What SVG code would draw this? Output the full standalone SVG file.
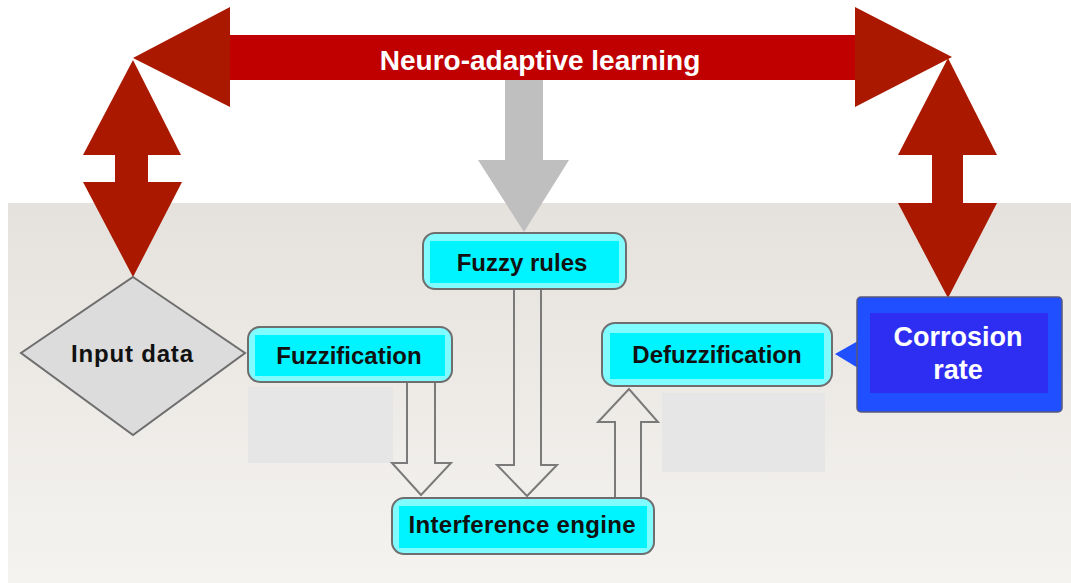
<svg xmlns="http://www.w3.org/2000/svg" width="1071" height="583" viewBox="0 0 1071 583">
  <defs>
    <linearGradient id="panelFill" x1="0" y1="0" x2="0" y2="1">
      <stop offset="0" stop-color="#E5E2DD"/>
      <stop offset="1" stop-color="#F5F3F0"/>
    </linearGradient>
    <style>
      .label { font-family: "Liberation Sans", Arial, sans-serif; font-weight: bold; text-anchor: middle; }
      .dark { fill: #111111; font-size: 24px; }
      .light { fill: #FFFFFF; }
      .box-outer { fill: #80FBFF; stroke: #6E6E6E; stroke-width: 2; }
      .box-inner { fill: #00F4FF; }
      .hollow { fill: none; stroke: #7A7A7A; stroke-width: 2; stroke-linejoin: miter; }
      .red-head { fill: #AA1800; }
      .red-body { fill: #C00000; }
      .shade { fill: #E6E6E6; }
    </style>
  </defs>

  <!-- page background and lower panel -->
  <rect x="0" y="0" width="1071" height="583" fill="#FFFFFF"/>
  <rect x="8" y="203" width="1063" height="380" fill="url(#panelFill)"/>

  <!-- plain grey blocks under the side boxes -->
  <rect class="shade" x="248" y="387" width="145" height="76"/>
  <rect class="shade" x="662" y="393" width="163" height="79"/>

  <g id="connectors">
    <!-- learning loop: horizontal double arrow -->
    <g id="learning-arrow">
      <rect class="red-body" x="229" y="35" width="627" height="45"/>
      <polygon class="red-head" points="133,58 230,7 230,107"/>
      <polygon class="red-head" points="952,57 855,7 855,107"/>
      <text class="label light" x="540" y="70" font-size="28">Neuro-adaptive learning</text>
    </g>
    <!-- learning link to the input -->
    <g id="input-link">
      <polygon class="red-head" points="133,60 181,155 83,155"/>
      <rect class="red-head" x="115" y="154" width="33" height="29"/>
      <polygon class="red-head" points="83,182 182,182 133,277"/>
    </g>
    <!-- learning link to the output -->
    <g id="output-link">
      <polygon class="red-head" points="948,58 997,155 898,155"/>
      <rect class="red-head" x="932" y="154" width="31" height="50"/>
      <polygon class="red-head" points="898,203 997,203 948,298"/>
    </g>
    <!-- learning feeds the rule base -->
    <polygon id="rules-feed" fill="#BFBFBF" points="505,80 543,80 543,160 569,160 524,232 478,160 505,160"/>
    <!-- hollow flow arrows -->
    <path class="hollow" d="M407,382 V463 H392 L421,495 L451,463 H435 V382"/>
    <path class="hollow" d="M514,289 V465 H497 L527,496 L557,465 H541 V289"/>
    <path class="hollow" d="M615,497 V422 H598 L629,389 L658,422 H641 V497"/>
  </g>

  <g id="input-data">
    <polygon points="133,277 245,353 133,435 21,353" fill="#DCDCDC" stroke="#6E6E6E" stroke-width="2"/>
    <text class="label dark" x="132" y="362" font-size="23" textLength="122" lengthAdjust="spacing">Input data</text>
  </g>

  <g id="fuzzification">
    <rect class="box-outer" x="248" y="327" width="204" height="55" rx="12"/>
    <rect class="box-inner" x="255" y="335" width="190" height="41"/>
    <text class="label dark" x="349" y="364">Fuzzification</text>
  </g>

  <g id="fuzzy-rules">
    <rect class="box-outer" x="423" y="233" width="203" height="56" rx="12"/>
    <rect class="box-inner" x="430" y="241" width="189" height="42"/>
    <text class="label dark" x="522" y="271">Fuzzy rules</text>
  </g>

  <g id="defuzzification">
    <rect class="box-outer" x="602" y="323" width="230" height="63" rx="13"/>
    <rect class="box-inner" x="610" y="333" width="214" height="46"/>
    <text class="label dark" x="717" y="363">Defuzzification</text>
  </g>

  <g id="interference-engine">
    <rect class="box-outer" x="392" y="498" width="262" height="56" rx="12"/>
    <rect class="box-inner" x="399" y="506" width="248" height="42"/>
    <text class="label dark" x="522" y="533" textLength="227" lengthAdjust="spacing">Interference engine</text>
  </g>

  <g id="corrosion-rate">
    <polygon points="835,354 858,341 858,368" fill="#1F4FFF"/>
    <rect x="857" y="297" width="205" height="115" rx="4" fill="#1F4FFF" stroke="#5A5A7A" stroke-width="1.5"/>
    <rect x="870" y="313" width="178" height="80" fill="#2E2EF2"/>
    <text class="label light" x="958" y="346" font-size="27">Corrosion</text>
    <text class="label light" x="958" y="379" font-size="27">rate</text>
  </g>
</svg>
